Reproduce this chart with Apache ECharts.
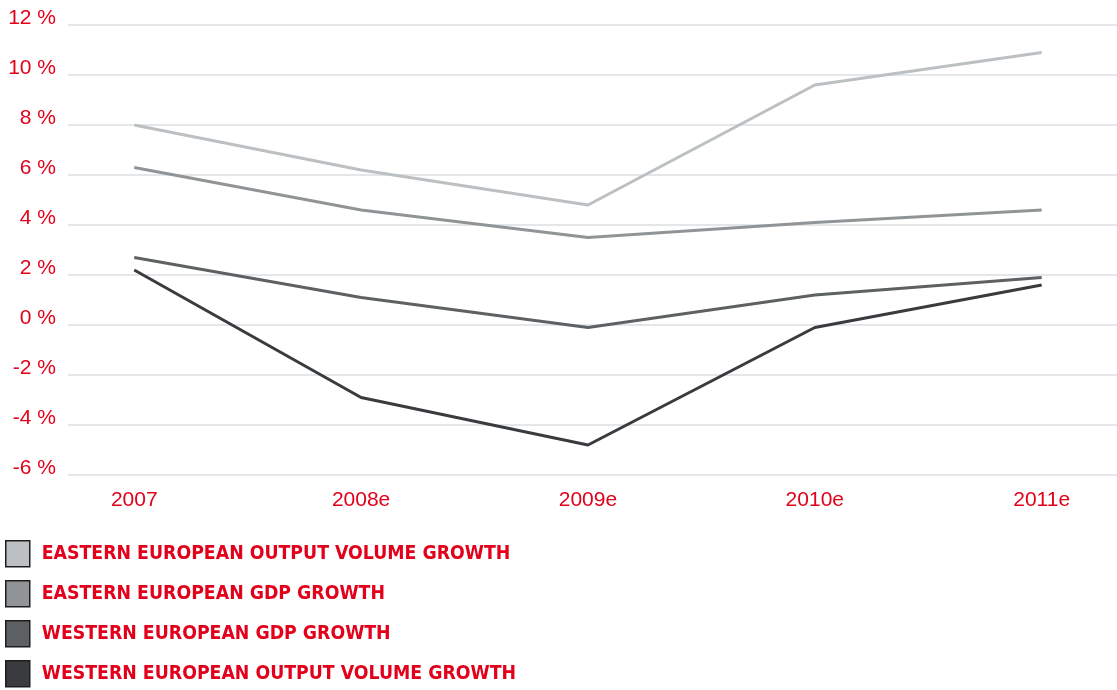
<!DOCTYPE html>
<html>
<head>
<meta charset="utf-8">
<script src="https://cdn.jsdelivr.net/npm/echarts@6/dist/echarts.min.js"></script>
<style>
  html, body { margin: 0; padding: 0; background: #fff; }
  #chart { width: 1117px; height: 690px; }
</style>
</head>
<body>
<div id="chart"></div>
<script>
// categories on the x axis
const years = ["2007", "2008e", "2009e", "2010e", "2011e"];

// growth rates in %
const eastOutput = [8.0, 6.2, 4.8, 9.6, 10.9];
const eastGdp = [6.3, 4.6, 3.5, 4.1, 4.6];
const westGdp = [2.7, 1.1, -0.1, 1.2, 1.9];
const westOutput = [2.2, -2.9, -4.8, -0.1, 1.6];

const seriesNames = [
  "EASTERN EUROPEAN OUTPUT VOLUME GROWTH",
  "EASTERN EUROPEAN GDP GROWTH",
  "WESTERN EUROPEAN GDP GROWTH",
  "WESTERN EUROPEAN OUTPUT VOLUME GROWTH"
];
const seriesColors = ["#bcc0c3", "#909496", "#5e6163", "#3a3b3e"];
const red = "#e2001a";

// pair each value with its category index
function toPoints(arr) {
  return arr.map((v, i) => [i, v]);
}

const chart = echarts.init(document.getElementById("chart"));

const allData = [eastOutput, eastGdp, westGdp, westOutput];

const option = {
  animation: false,
  grid: {
    left: 68,
    right: 0,
    top: 25,
    bottom: 215
  },
  legend: {
    orient: "vertical",
    left: 5,
    top: 540,
    height: 200,
    padding: 0,
    icon: "rect",
    itemWidth: 24,
    itemHeight: 26,
    itemGap: 12.5,
    selectedMode: false,
    itemStyle: {
      borderColor: "#1e1e1e",
      borderWidth: 1.5
    },
    textStyle: {
      color: red,
      fontFamily: "Liberation Sans Narrow, DejaVu Sans Condensed, sans-serif",
      fontWeight: "bold",
      fontSize: 19.3,
      lineHeight: 26,
      padding: [0, 0, 0, 7]
    },
    data: seriesNames
  },
  xAxis: {
    type: "value",
    min: -0.292,
    max: 4.332,
    axisLine: { show: false },
    axisTick: { show: false },
    splitLine: { show: false },
    axisLabel: {
      customValues: [0, 1, 2, 3, 4],
      formatter: (v) => years[Math.round(v)],
      color: red,
      fontFamily: "Liberation Sans, Arial, sans-serif",
      fontSize: 21,
      margin: 15
    }
  },
  yAxis: {
    type: "value",
    min: -6,
    max: 12,
    interval: 2,
    axisLine: { show: false },
    axisTick: { show: false },
    splitLine: {
      lineStyle: { color: "#e3e7ea", width: 2 }
    },
    axisLabel: {
      formatter: "{value} %",
      color: red,
      fontFamily: "Liberation Sans, Arial, sans-serif",
      fontSize: 21,
      margin: 12,
      verticalAlign: "bottom",
      lineHeight: 21,
      padding: [0, 0, -4, 0]
    }
  },
  series: allData.map((arr, i) => ({
    name: seriesNames[i],
    type: "line",
    data: toPoints(arr),
    color: seriesColors[i],
    symbol: "none",
    lineStyle: { width: 3, color: seriesColors[i] },
    z: 10 - i
  }))
};

chart.setOption(option);
</script>
</body>
</html>
